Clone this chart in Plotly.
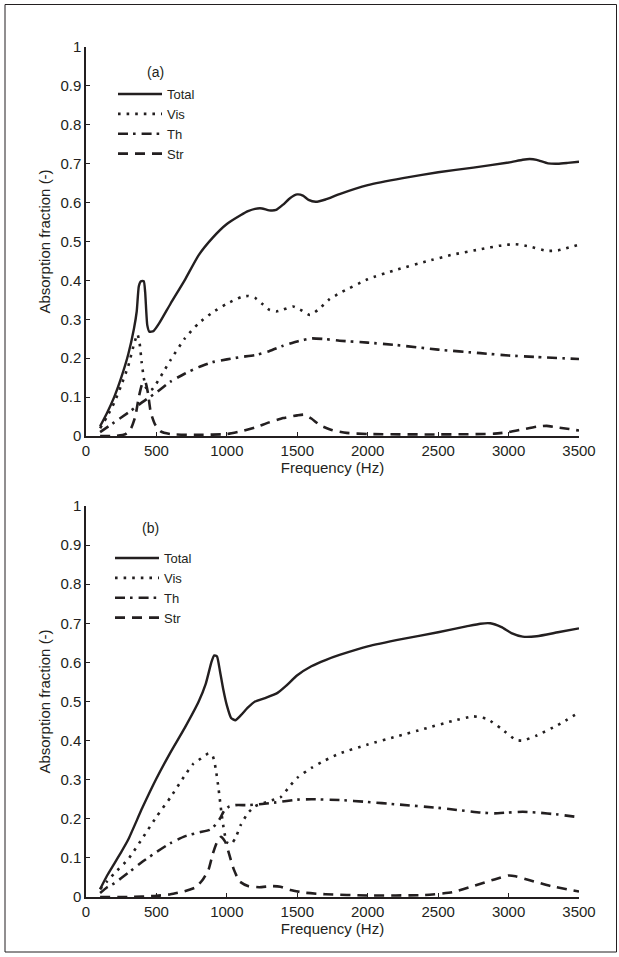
import plotly.graph_objects as go

INK = "#231f20"

# ---------------- Panel (a) ----------------
fa_total = [100, 150, 200, 250, 300, 340, 360, 375, 390, 410, 420, 435, 450, 480, 520, 600, 700, 800,
            900, 1000, 1100, 1150, 1200, 1250, 1300, 1350, 1400, 1450, 1500, 1540, 1580, 1630, 1700,
            1800, 2000, 2250, 2500, 2750, 3000, 3100, 3150, 3200, 3280, 3350, 3420, 3500]
a_total = [0.025, 0.06, 0.10, 0.15, 0.21, 0.275, 0.32, 0.385, 0.398, 0.398, 0.37, 0.285, 0.268,
           0.27, 0.29, 0.34, 0.40, 0.465, 0.51, 0.545, 0.568, 0.578, 0.584, 0.585, 0.58, 0.581,
           0.595, 0.612, 0.621, 0.618, 0.607, 0.602, 0.608, 0.622, 0.645, 0.663, 0.678, 0.69,
           0.703, 0.71, 0.712, 0.71, 0.701, 0.70, 0.702, 0.705]

fa_vis = [100, 150, 200, 250, 300, 340, 365, 380, 395, 410, 425, 445, 470, 500, 550, 600, 700, 800,
          900, 1000, 1100, 1150, 1200, 1250, 1300, 1350, 1400, 1470, 1520, 1590, 1650, 1730, 1800,
          2000, 2200, 2450, 2600, 2800, 2950, 3050, 3150, 3270, 3350, 3500]
a_vis = [0.02, 0.05, 0.085, 0.13, 0.18, 0.235, 0.262, 0.24, 0.19, 0.15, 0.125, 0.115, 0.12, 0.135,
         0.165, 0.195, 0.25, 0.29, 0.318, 0.34, 0.357, 0.36, 0.355, 0.34, 0.325, 0.32, 0.325, 0.333,
         0.325, 0.311, 0.325, 0.352, 0.367, 0.403, 0.427, 0.452, 0.466, 0.48, 0.49, 0.493, 0.487,
         0.476, 0.477, 0.492]

fa_th = [100, 200, 300, 400, 500, 600, 700, 800, 900, 1000, 1100, 1200, 1300, 1400, 1500, 1600,
         1700, 1800, 2000, 2200, 2500, 2800, 3000, 3200, 3500]
a_th = [0.01, 0.035, 0.06, 0.087, 0.112, 0.14, 0.16, 0.177, 0.19, 0.197, 0.203, 0.208, 0.218, 0.232,
        0.243, 0.251, 0.249, 0.245, 0.24, 0.234, 0.222, 0.213, 0.207, 0.203, 0.198]

fa_str = [100, 200, 280, 320, 350, 375, 400, 420, 440, 460, 490, 530, 600, 800, 1000, 1100, 1200,
          1300, 1400, 1500, 1550, 1600, 1660, 1750, 1850, 2000, 2500, 2900, 3000, 3100, 3200, 3270,
          3350, 3430, 3500]
a_str = [0.0, 0.0, 0.005, 0.02, 0.05, 0.10, 0.135, 0.14, 0.11, 0.06, 0.03, 0.012, 0.005, 0.003,
         0.005, 0.012, 0.022, 0.035, 0.046, 0.053, 0.055, 0.045, 0.028, 0.015, 0.008, 0.005, 0.004,
         0.006, 0.01, 0.017, 0.024, 0.026, 0.022, 0.018, 0.014]

# ---------------- Panel (b) ----------------
fb_total = [100, 150, 200, 250, 300, 400, 500, 600, 700, 800, 850, 890, 910, 930, 950, 975, 1000,
            1030, 1060, 1100, 1150, 1200, 1280, 1360, 1420, 1500, 1600, 1700, 1800, 2000, 2250, 2500,
            2700, 2800, 2870, 2950, 3020, 3100, 3200, 3350, 3500]
b_total = [0.02, 0.055, 0.085, 0.115, 0.147, 0.228, 0.303, 0.37, 0.432, 0.50, 0.545, 0.60, 0.618,
           0.615, 0.58, 0.53, 0.49, 0.458, 0.452, 0.465, 0.485, 0.50, 0.51, 0.522, 0.54, 0.567, 0.59,
           0.606, 0.619, 0.641, 0.66, 0.677, 0.692, 0.699, 0.70, 0.69, 0.675, 0.666, 0.667, 0.677,
           0.687]

fb_vis = [100, 150, 200, 300, 400, 500, 600, 700, 760, 800, 870, 900, 920, 940, 960, 980, 1000,
          1030, 1060, 1100, 1150, 1200, 1300, 1380, 1450, 1500, 1600, 1700, 1800, 2000, 2200, 2400,
          2600, 2750, 2850, 2950, 3050, 3100, 3200, 3350, 3500]
b_vis = [0.02, 0.04, 0.06, 0.097, 0.15, 0.205, 0.255, 0.31, 0.34, 0.35, 0.367, 0.36, 0.33, 0.28,
         0.22, 0.17, 0.14, 0.135, 0.15, 0.185, 0.215, 0.232, 0.245, 0.255, 0.285, 0.305, 0.33, 0.35,
         0.367, 0.39, 0.41, 0.43, 0.45, 0.462, 0.455, 0.43, 0.402, 0.40, 0.413, 0.44, 0.472]

fb_th = [100, 150, 200, 300, 400, 500, 600, 700, 800, 880, 920, 950, 980, 1010, 1060, 1150, 1250,
         1350, 1500, 1600, 1800, 2000, 2200, 2500, 2800, 2900, 3000, 3100, 3200, 3350, 3500]
b_th = [0.01, 0.025, 0.035, 0.062, 0.09, 0.115, 0.138, 0.155, 0.165, 0.172, 0.185, 0.20, 0.22, 0.23,
        0.235, 0.235, 0.238, 0.242, 0.249, 0.25, 0.248, 0.243, 0.237, 0.228, 0.216, 0.214, 0.216,
        0.218, 0.216, 0.211, 0.204]

fb_str = [100, 300, 500, 600, 700, 780, 830, 870, 900, 930, 960, 990, 1020, 1050, 1090, 1150, 1230,
          1320, 1380, 1450, 1550, 1700, 2000, 2400, 2600, 2750, 2900, 3000, 3050, 3150, 3300, 3500]
b_str = [0.0, 0.0, 0.003, 0.007, 0.015, 0.025, 0.045, 0.07, 0.11, 0.14, 0.154, 0.14, 0.105, 0.07,
         0.04, 0.028, 0.025, 0.028, 0.026, 0.018, 0.011, 0.007, 0.004, 0.005, 0.012, 0.028, 0.045,
         0.055, 0.053, 0.043, 0.028, 0.014]

names = ["Total", "Vis", "Th", "Str"]
x_ticks = [0, 500, 1000, 1500, 2000, 2500, 3000, 3500]
y_ticks = [0, 0.1, 0.2, 0.3, 0.4, 0.5, 0.6, 0.7, 0.8, 0.9, 1]
y_ticktext = ["0", "0.1", "0.2", "0.3", "0.4", "0.5", "0.6", "0.7", "0.8", "0.9", "1"]

styles = [
    dict(width=2.4, dash="solid"),
    dict(width=2.6, dash="2.6px,6px"),
    dict(width=2.6, dash="10px,5px,2.6px,6px"),
    dict(width=2.6, dash="10px,7px"),
]

fig = go.Figure()
panel_a = [(fa_total, a_total), (fa_vis, a_vis), (fa_th, a_th), (fa_str, a_str)]
panel_b = [(fb_total, b_total), (fb_vis, b_vis), (fb_th, b_th), (fb_str, b_str)]

for (xs, ys), nm, st in zip(panel_a, names, styles):
    fig.add_trace(go.Scatter(x=xs, y=ys, name=nm, mode="lines",
                             line=dict(color=INK, width=st["width"], dash=st["dash"], shape="spline", smoothing=0.5),
                             xaxis="x", yaxis="y", legend="legend"))
for (xs, ys), nm, st in zip(panel_b, names, styles):
    fig.add_trace(go.Scatter(x=xs, y=ys, name=nm, mode="lines",
                             line=dict(color=INK, width=st["width"], dash=st["dash"], shape="spline", smoothing=0.5),
                             xaxis="x2", yaxis="y2", legend="legend2"))

W, H = 619, 957
L, R, T, B = 86, 40, 47, 60
pw = W - L - R
ph = H - T - B


def px_x(x):
    return (x - L) / pw


def px_y(y):
    return (H - B - y) / ph


def ydom(top_px, bot_px):
    return [px_y(bot_px), px_y(top_px)]


font = dict(family="Liberation Sans, Arial, sans-serif", size=15, color=INK)
legfont = dict(family="Liberation Sans, Arial, sans-serif", size=13, color=INK)
labfont = dict(family="Liberation Sans, Arial, sans-serif", size=14, color=INK)

xcommon = dict(range=[0, 3500], tickvals=x_ticks, ticks="inside", ticklen=4, tickwidth=1,
               tickcolor=INK, showline=True, linecolor=INK, linewidth=1.5, showgrid=False,
               zeroline=False, title=dict(text="Frequency (Hz)", standoff=4, font=font), tickfont=font)
ycommon = dict(range=[0, 1], tickvals=y_ticks, ticktext=y_ticktext, ticks="inside", ticklen=4,
               tickwidth=1, tickcolor=INK, showline=True, linecolor=INK, linewidth=1.5,
               showgrid=False, zeroline=False,
               title=dict(text="Absorption fraction (-)", standoff=6, font=font), tickfont=font)

legcommon = dict(font=legfont, bgcolor="rgba(0,0,0,0)", borderwidth=0, itemwidth=44,
                 xref="paper", yref="paper", xanchor="left", yanchor="top",
                 tracegroupgap=0, itemclick=False)

fig.update_layout(
    width=W, height=H,
    margin=dict(l=L, r=R, t=T, b=B, autoexpand=False),
    paper_bgcolor="white", plot_bgcolor="white",
    font=font,
    xaxis=dict(domain=[0, 1], anchor="y", **xcommon),
    yaxis=dict(domain=ydom(47, 436), anchor="x", **ycommon),
    xaxis2=dict(domain=[0, 1], anchor="y2", **xcommon),
    yaxis2=dict(domain=ydom(506, 897), anchor="x2", **ycommon),
    legend=dict(x=px_x(113), y=px_y(79), **legcommon),
    legend2=dict(x=px_x(110), y=px_y(543), **legcommon),
    annotations=[
        dict(text="(a)", x=px_x(155), y=px_y(72), xref="paper", yref="paper", showarrow=False,
             font=labfont, xanchor="center", yanchor="middle"),
        dict(text="(b)", x=px_x(150), y=px_y(528), xref="paper", yref="paper", showarrow=False,
             font=labfont, xanchor="center", yanchor="middle"),
    ],
    shapes=[
        dict(type="rect", xref="paper", yref="paper",
             x0=px_x(5), x1=px_x(616.5), y0=px_y(952), y1=px_y(4.5),
             line=dict(color=INK, width=1), fillcolor="rgba(0,0,0,0)", layer="below"),
    ],
)

fig.write_html("out.html")
